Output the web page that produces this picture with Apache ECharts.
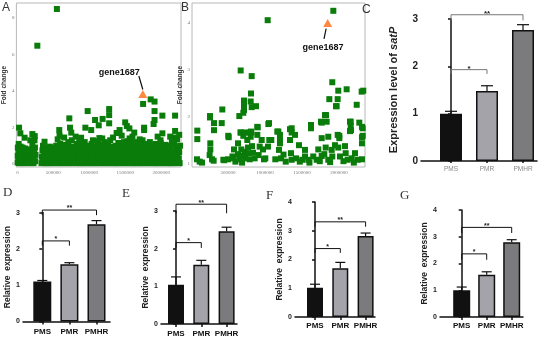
<!DOCTYPE html>
<html><head><meta charset="utf-8">
<script src="https://cdn.jsdelivr.net/npm/echarts@6/dist/echarts.min.js"></script>
<style>html,body{margin:0;padding:0;background:#fff}#c{width:550px;height:344px}</style>
</head><body><div id="c"></div>
<script>
// ---------- DATA ----------
const categories = ['PMS', 'PMR', 'PMHR'];
const barColors = ['#111111', '#a5a3aa', '#7b7b7d'];

const valuesC = [1.0, 1.48, 2.77];  const errC = [0.05, 0.11, 0.11];
const valuesD = [1.1, 1.58, 2.68];  const errD = [0.03, 0.04, 0.10];
const valuesE = [1.04, 1.57, 2.46]; const errE = [0.21, 0.12, 0.11];
const valuesF = [1.02, 1.70, 2.82]; const errF = [0.12, 0.20, 0.10];
const valuesG = [1.0, 1.58, 2.79];  const errG = [0.12, 0.11, 0.10];

// [from, to, bracket top, leg bottom, label]
const sigC = [[0, 1, 1.93, 1.84, '*'], [0, 2, 3.09, 2.97, '**']];
const sigD = [[0, 1, 2.22, 2.09, '*'], [0, 2, 3.07, 2.93, '**']];
const sigE = [[0, 1, 2.16, 2.02, '*'], [0, 2, 3.18, 2.94, '**']];
const sigF = [[0, 1, 2.38, 2.23, '*'], [0, 2, 3.31, 3.14, '**']];
const sigG = [[0, 1, 2.36, 2.14, '*'], [0, 2, 3.35, 3.14, '**']];

// Scatter A: [position (kb), fold change]
const scatterAHigh = [[549,8.49],[277,6.48],[1748,3.29],[1853,3.54],[1907,3.42],[1907,2.9],[1276,3.01],[977,2.9],[1276,2.68],[2016,2.65],[2193,2.65],[722,2.5],[1080,2.41],[1185,2.47],[1131,2.12],[1276,2.23],[1499,2.28],[1522,2.08],[1907,2.41],[1894,2.19],[23,1.99],[41,1.68],[208,1.64],[100,1.44],[241,1.53],[582,1.86],[586,1.55],[731,1.99],[749,1.72],[945,1.99],[1026,1.86],[886,1.44],[1140,1.42],[1421,1.86],[1557,1.95],[1625,1.72],[1762,1.99],[1762,1.86],[2016,1.68],[2125,1.5],[2193,1.81],[377,1.22],[180,1.3],[560,1.35],[650,1.45],[810,1.5],[1050,1.3],[1180,1.4],[1330,1.45],[1600,1.5],[1700,1.35],[1950,1.5],[1990,1.3],[2250,1.6],[1380,1.7],[1450,1.55],[860,1.25],[1120,1.25]];
const scatterABand = [[3,0.08],[4,0.45],[6,0.9],[12,0.25],[14,0.65],[18,1.1],[22,0.05],[26,0.4],[30,0.8],[34,0.15],[38,0.55],[44,0.95],[48,0.3],[52,0.05],[56,0.7],[62,0.2],[66,0.5],[72,0.9],[76,0.1],[80,0.35],[86,0.75],[92,0.05],[96,0.5],[102,0.25],[108,0.85],[112,0.1],[118,0.45],[124,0.7],[130,0.05],[136,0.3],[142,0.6],[148,0.15],[154,0.4],[160,0.08],[168,0.55],[174,0.2],[180,0.8],[186,0.05],[192,0.4],[198,0.65],[204,0.15],[208,1.05],[214,0.45],[218,0.85],[224,0.05],[228,0.3],[234,0.6],[238,1.3],[244,0.9],[248,0.15],[252,0.5],
[335,0.05],[340,0.4],[348,0.75],[352,0.15],[356,1.0],[362,0.3],[368,0.6],[372,0.05],[378,0.9],[382,0.45],[388,0.2],[394,0.7],[400,0.05],[404,0.35],[410,0.85],[416,0.15],[420,0.55],[426,0.05],[432,0.4],[438,0.75],[444,0.2],[450,0.95],[456,0.05],[462,0.5],[468,0.3],[474,0.8],[480,0.1],[486,0.6],[492,0.35],[498,0.05],[504,0.9],[510,0.45],[516,0.2],[522,0.7],[528,0.05],[534,0.5],[540,1.0],[546,0.25],[552,0.65],[558,0.1],[564,0.4],[570,0.85],[576,0.05],[582,0.55],[588,0.3],[594,1.1],[600,0.15],
[606,0.6],[612,0.05],[618,0.4],[624,0.9],[630,0.2],[636,0.7],[642,0.05],[648,0.45],[654,1.05],[660,0.25],[666,0.6],[672,0.1],[678,0.85],[684,0.4],[690,0.05],[696,0.7],[702,0.3],[708,1.2],[714,0.55],[720,0.05],[726,0.9],[732,0.35],[738,0.65],[744,0.1],[750,0.45],[756,1.3],[762,0.8],[768,0.05],[774,0.5],[780,0.25],[786,0.95],[792,0.1],[798,0.6],[804,0.35],[810,0.05],[816,0.75],[822,0.45],[828,1.1],[834,0.15],[840,0.55],[846,0.3],[852,0.05],[858,0.85],[864,0.4],[870,0.2],[876,0.7],[882,0.05],[888,1.0],[894,0.5],
[900,0.15],[906,0.75],[912,0.05],[918,0.4],[924,0.9],[930,0.25],[936,1.2],[942,0.6],[948,0.05],[954,0.35],[960,0.8],[966,0.1],[972,0.5],[978,1.0],[984,0.05],[990,0.3],[996,0.7],[1002,0.15],[1008,0.9],[1014,0.45],[1020,0.05],[1026,0.6],[1032,1.1],[1038,0.25],[1044,0.75],[1050,0.05],[1056,0.4],[1062,0.95],[1068,0.15],[1074,0.55],[1080,0.3],[1086,0.05],[1092,0.85],[1098,0.45],[1104,0.1],[1110,0.7],[1116,1.15],[1122,0.05],[1128,0.35],[1134,0.6],[1140,0.2],[1146,0.9],[1152,0.05],[1158,0.5],[1164,1.05],[1170,0.25],[1176,0.7],[1182,0.1],[1188,0.4],[1194,0.85],
[1200,0.05],[1206,0.55],[1212,1.2],[1218,0.3],[1224,0.75],[1230,0.05],[1236,0.45],[1242,0.95],[1248,0.15],[1254,0.6],[1260,1.1],[1266,0.05],[1272,0.35],[1278,0.8],[1284,0.2],[1290,1.3],[1296,0.5],[1302,0.05],[1308,0.7],[1314,0.3],[1320,0.95],[1326,0.1],[1332,0.45],[1338,0.05],[1344,0.8],[1350,0.25],[1356,0.6],[1362,0.05],[1368,1.0],[1374,0.4],[1380,0.15],[1386,0.7],[1392,0.05],[1398,0.5],[1404,1.15],[1410,0.25],[1416,0.85],[1422,0.05],[1428,0.4],[1434,0.65],[1440,0.1],[1446,1.0],[1452,0.3],[1458,0.55],[1464,0.05],[1470,0.8],[1476,0.35],[1482,1.2],[1488,0.1],[1494,0.6],
[1500,0.05],[1506,0.9],[1512,0.4],[1518,0.15],[1524,0.7],[1530,1.25],[1536,0.05],[1542,0.5],[1548,0.95],[1554,0.25],[1560,1.4],[1566,0.6],[1572,0.05],[1578,0.8],[1584,0.35],[1590,1.1],[1596,0.1],[1602,0.55],[1608,0.05],[1614,0.85],[1620,0.3],[1626,1.2],[1632,0.6],[1638,0.05],[1644,0.4],[1650,0.95],[1656,0.15],[1662,0.7],[1668,0.05],[1674,1.05],[1680,0.45],[1686,0.2],[1692,0.8],[1698,0.05],[1704,0.55],[1710,1.15],[1716,0.3],[1722,0.7],[1728,0.05],[1734,0.45],[1740,1.3],[1746,0.9],[1752,0.15],[1758,0.6],[1764,0.05],[1770,1.0],[1776,0.35],[1782,0.75],[1788,0.1],[1794,0.5],
[1800,1.1],[1806,0.05],[1812,0.4],[1818,0.85],[1824,0.2],[1830,0.6],[1836,0.05],[1842,1.2],[1848,0.45],[1854,0.9],[1860,0.1],[1866,0.65],[1872,0.3],[1878,0.05],[1884,1.0],[1890,0.5],[1896,0.2],[1902,0.8],[1908,0.05],[1914,0.4],[1920,1.1],[1926,0.65],[1932,0.05],[1938,0.3],[1944,0.85],[1950,0.15],[1956,0.55],[1962,1.0],[1968,0.05],[1974,0.4],[1980,0.75],[1986,0.2],[1992,1.15],[1998,0.5],[2004,0.05],[2010,0.7],[2016,0.3],[2022,0.95],[2028,0.1],[2034,0.55],[2040,0.05],[2046,0.85],[2052,0.4],[2058,1.05],[2064,0.2],[2070,0.65],[2076,0.05],[2082,0.35],[2088,0.9],[2094,0.15],[2100,0.6],[2106,0.05],[2112,1.0],[2118,0.45],[2124,0.25],[2130,0.8],[2136,0.05],[2142,0.5],[2148,1.2],[2154,0.3],[2160,0.7],[2166,0.05],[2172,0.4],[2178,1.1],[2184,0.15],[2190,0.6],[2196,1.45],[2202,0.05],[2208,0.85],[2214,0.35],[2220,1.35],[2226,0.55],[2232,0.1],[2238,0.9],[2244,0.3],[2250,0.65],[2256,0.05],[2262,1.0]];

// Scatter B: [position (kb), fold change]
const scatterB = [[1923,4.26],[1036,4.06],[671,2.99],[820,2.87],[811,2.5],[716,2.35],[716,2.26],[716,2.15],[707,2.09],[806,2.33],[820,2.21],[878,2.23],[653,2.02],[423,2.16],[257,2.02],[257,1.99],[311,1.87],[311,1.72],[415,1.87],[901,1.78],[1045,1.85],[1909,2.74],[1990,2.56],[1959,2.23],[1869,2.38],[2103,2.59],[2306,2.54],[2328,2.56],[2239,2.26],[1824,2.04],[1766,1.88],[1621,1.83],[1621,1.76],[1360,1.76],[1360,1.67],[1405,1.62],[1166,1.69],[1202,1.62],[896,1.62],[806,1.58],[788,1.67],[671,1.67],[707,1.6],[811,1.69],[504,1.6],[2158,1.9],[2158,1.81],[2148,1.7],[2004,1.6],[2004,1.55],[2320,1.76],[2320,1.6],[2274,1.88],[1766,1.55],[1058,1.51],[955,1.51],[1202,1.51],
[85,1.71],[85,1.53],[81,1.1],[117,1.05],[149,1.03],[261,1.44],[261,1.31],[252,1.19],[284,1.1],[306,1.07],[437,1.09],[500,1.1],[509,1.57],[581,1.31],[577,1.12],[635,1.44],[635,1.21],[658,1.1],[671,1.67],[680,1.31],[703,1.17],[725,1.67],[725,1.26],[734,1.12],[761,1.51],[770,1.35],[779,1.23],[793,1.1],[815,1.67],[824,1.38],[838,1.24],[860,1.12],[896,1.79],[928,1.37],[914,1.19],[986,1.1],[973,1.31],[1004,1.12],[1040,1.37],[1054,1.87],[1085,1.51],[1139,1.1],[450,1.08],[600,1.05],[690,1.03],[560,1.16],
[1180,1.69],[1202,1.44],[1189,1.3],[1216,1.12],[1338,1.74],[1338,1.51],[1351,1.23],[1360,1.09],[1459,1.4],[1540,1.3],[1540,1.16],[1504,1.09],[1585,1.09],[1621,1.8],[1652,1.16],[1698,1.09],[1720,1.31],[1766,1.17],[1801,1.21],[1820,1.35],[1810,2.04],[1855,1.58],[1855,1.09],[1901,1.3],[1909,1.16],[1945,1.4],[1982,1.62],[1990,1.35],[2013,1.16],[2081,1.38],[2090,1.23],[2117,1.09],[2148,1.9],[2162,1.72],[2171,1.12],[2216,1.23],[2252,1.09],[2310,1.79],[2310,1.57],[2310,1.44],[2310,1.1],[1982,2.38],[1968,2.23],[1833,1.9],[1756,1.9],[1280,1.05],[1420,1.12],[1600,1.03],[1740,1.06],[1880,1.04],[2060,1.06],[2200,1.03],[1250,1.2],[1470,1.05]];

const geneA = [[1744, 3.84]];  const geneB = [[1847, 4.0]];
const arrowA = [[1689, 4.82], [1744, 4.08]];
const arrowB = [[1797, 3.66], [1826, 3.88]];
const geneLabelA = [1417, 5.0];  const geneLabelB = [1783, 3.47];
const geneName = 'gene1687';

const xTicksA = [0, 500, 1000, 1500, 2000];
const xTicksB = [500, 1000, 1500, 2000];
const yTicksA = [0, 2, 4, 6, 8];
const yTicksB = [1, 2, 3, 4];

// ---------- LAYOUT ----------
const SANS = 'Liberation Sans, Arial, sans-serif';
const SERIF = 'Liberation Serif, Times New Roman, serif';
const grids = [], xAxes = [], yAxes = [], series = [];

function scatterPanel(cfg) {
  const gi = grids.length;
  grids.push({left: cfg.left, top: cfg.top, width: cfg.width, height: cfg.height, show: true,
    borderColor: '#b8b8b8', borderWidth: 1, backgroundColor: '#fff', containLabel: false});
  xAxes.push({gridIndex: gi, type: 'value', min: cfg.xmin, max: cfg.xmax,
    axisLine: {show: false}, axisTick: {show: false}, splitLine: {show: false},
    axisLabel: {customValues: cfg.xTicks, formatter: v => String(Math.round(v * 1000)), fontSize: 5, color: '#777', fontFamily: SERIF, margin: 3}});
  yAxes.push({gridIndex: gi, type: 'value', min: cfg.ymin, max: cfg.ymax,
    axisLine: {show: false}, axisTick: {show: false}, splitLine: {show: false},
    axisLabel: {customValues: cfg.yTicks, fontSize: 5, color: '#777', fontFamily: SERIF, margin: 2},
    name: 'Fold change', nameLocation: 'middle', nameRotate: 90, nameGap: cfg.nameGap,
    nameTextStyle: {fontSize: 6.5, fontWeight: 'bold', color: '#333', fontFamily: SANS}});
  cfg.points.forEach(p => series.push({type: 'scatter', xAxisIndex: gi, yAxisIndex: gi, data: p,
    symbol: 'rect', symbolSize: cfg.size, itemStyle: {color: '#0a7c0a', opacity: 1}, silent: true, large: false}));
  series.push({type: 'scatter', xAxisIndex: gi, yAxisIndex: gi, data: cfg.gene, symbol: 'triangle',
    symbolSize: [9, 8], itemStyle: {color: '#ff6a10'}, z: 5, silent: true,
    markLine: {silent: true, symbol: ['none', 'arrow'], symbolSize: [0, 6], animation: false,
      lineStyle: {color: '#111', width: 1.2, type: 'solid'}, label: {show: false},
      data: [[{coord: cfg.arrow[0]}, {coord: cfg.arrow[1]}]]},
    markPoint: {silent: true, animation: false, symbol: 'rect', symbolSize: 1, itemStyle: {color: 'rgba(0,0,0,0)'},
      label: {show: true, position: 'inside', formatter: geneName, color: '#111', fontWeight: 'bold', fontSize: 9, fontFamily: SANS},
      data: [{coord: cfg.labelAt}]}});
}

function barPanel(cfg) {
  const gi = grids.length;
  const xmin = -(cfg.c0 - cfg.axisX) / cfg.sp, xmax = (cfg.right - cfg.c0) / cfg.sp;
  grids.push({left: cfg.axisX, top: cfg.yTop, width: cfg.right - cfg.axisX, height: cfg.y0 - cfg.yTop, containLabel: false});
  xAxes.push({gridIndex: gi, type: 'value', min: xmin, max: xmax, splitLine: {show: false},
    axisLine: {show: true, onZero: false, lineStyle: {color: '#111', width: cfg.lw}},
    axisTick: {show: true, customValues: [0, 1, 2], length: cfg.tickLen, lineStyle: {color: '#111', width: cfg.lw}},
    axisLabel: {customValues: [0, 1, 2], formatter: v => categories[Math.round(v)], fontSize: cfg.xFont,
      fontWeight: cfg.xBold ? 'bold' : 'normal', color: cfg.xColor, fontFamily: SANS, margin: cfg.xMargin}});
  yAxes.push({gridIndex: gi, type: 'value', min: 0, max: cfg.ymax, interval: 1, splitLine: {show: false},
    axisLine: {show: true, lineStyle: {color: '#111', width: cfg.lw}},
    axisTick: {show: true, length: 3, lineStyle: {color: '#111', width: cfg.lw}},
    axisLabel: {fontSize: cfg.yFont, fontWeight: 'bold', color: '#222', fontFamily: SANS, margin: 3},
    name: cfg.yName, nameLocation: 'middle', nameRotate: 90, nameGap: cfg.nameGap,
    nameTextStyle: {fontSize: cfg.nameSize, fontWeight: 'bold', color: '#222', fontFamily: SANS,
      rich: {i: {fontSize: cfg.nameSize, fontWeight: 'bold', fontStyle: 'italic', color: '#222', fontFamily: SANS}}}});
  series.push({type: 'bar', xAxisIndex: gi, yAxisIndex: gi, barWidth: cfg.bw, silent: true,
    data: cfg.values.map((v, i) => ({value: [i, v], itemStyle: {color: barColors[i], borderColor: '#111', borderWidth: cfg.lw}}))});
  const errs = cfg.errs, vals = cfg.values;
  series.push({type: 'custom', xAxisIndex: gi, yAxisIndex: gi, clip: false, silent: true, z: 3,
    data: vals.map((v, i) => [i, v, v + errs[i]]),
    renderItem: (params, api) => {
      const b = api.coord([api.value(0), api.value(1)]), t = api.coord([api.value(0), api.value(2)]);
      const hw = cfg.cap / 2;
      return {type: 'group', children: [
        {type: 'line', shape: {x1: b[0], y1: b[1], x2: t[0], y2: t[1]}, style: {stroke: '#111', lineWidth: 1.2}},
        {type: 'line', shape: {x1: t[0] - hw, y1: t[1], x2: t[0] + hw, y2: t[1]}, style: {stroke: '#111', lineWidth: 1.2}}]};
    }});
  const sig = cfg.sig;
  series.push({type: 'custom', xAxisIndex: gi, yAxisIndex: gi, clip: false, silent: true, z: 3,
    data: sig.map(s => [s[0], s[1], s[2], s[3]]),
    renderItem: (params, api) => {
      const a = api.coord([api.value(0), api.value(2)]), b = api.coord([api.value(1), api.value(2)]);
      const al = api.coord([api.value(0), api.value(3)]), bl = api.coord([api.value(1), api.value(3)]);
      return {type: 'group', children: [
        {type: 'polyline', shape: {points: [al, a, b, bl]}, style: {stroke: cfg.bracketColor, lineWidth: 1, fill: null}},
        {type: 'text', x: (a[0] + b[0]) / 2, y: a[1] + cfg.starDy, style: {text: sig[params.dataIndex][4],
          fill: '#222', fontSize: cfg.starSize, fontWeight: 'bold', fontFamily: SANS, align: 'center', verticalAlign: 'bottom'}}]};
    }});
}

scatterPanel({left: 13, top: 3, width: 168, height: 164, xmin: -14, xmax: 2275, ymin: -0.164, ymax: 8.82,
  xTicks: xTicksA, yTicks: yTicksA, nameGap: 5, size: 6, points: [scatterABand, scatterAHigh],
  gene: geneA, arrow: arrowA, labelAt: geneLabelA});
scatterPanel({left: 192, top: 3, width: 173, height: 164, xmin: 13.5, xmax: 2351, ymin: 0.936, ymax: 4.426,
  xTicks: xTicksB, yTicks: yTicksB, nameGap: 3, size: 6, points: [scatterB],
  gene: geneB, arrow: arrowB, labelAt: geneLabelB});

barPanel({axisX: 421, right: 537, y0: 161, yTop: 19, ymax: 3, c0: 451, sp: 36, bw: 22, cap: 12, lw: 1.5, tickLen: 2,
  values: valuesC, errs: errC, sig: sigC, yName: 'Expression level of {i|satP}', nameGap: 22, nameSize: 11,
  xFont: 6.5, xBold: false, xColor: '#888', xMargin: 5, yFont: 10, bracketColor: '#777', starSize: 8, starDy: 3});
barPanel({axisX: 23, right: 110, y0: 321.5, yTop: 212.6, ymax: 3, c0: 42.3, sp: 27.1, bw: 18, cap: 10, lw: 1.5, tickLen: 3,
  values: valuesD, errs: errD, sig: sigD, yName: 'Relative  expression', nameGap: 10, nameSize: 8.5,
  xFont: 8, xBold: true, xColor: '#111', xMargin: 6, yFont: 7, bracketColor: '#111', starSize: 7, starDy: 2});
barPanel({axisX: 161, right: 237, y0: 324, yTop: 211, ymax: 3, c0: 176, sp: 25.3, bw: 16, cap: 10, lw: 1.5, tickLen: 3,
  values: valuesE, errs: errE, sig: sigE, yName: 'Relative  expression', nameGap: 11, nameSize: 8.5,
  xFont: 8, xBold: true, xColor: '#111', xMargin: 6, yFont: 7, bracketColor: '#111', starSize: 7, starDy: 2});
barPanel({axisX: 295, right: 375, y0: 317, yTop: 202, ymax: 4, c0: 315, sp: 25.3, bw: 16, cap: 10, lw: 1.5, tickLen: 3,
  values: valuesF, errs: errF, sig: sigF, yName: 'Relative  expression', nameGap: 8, nameSize: 8.5,
  xFont: 8, xBold: true, xColor: '#111', xMargin: 5, yFont: 7, bracketColor: '#111', starSize: 7, starDy: 2});
barPanel({axisX: 440, right: 523, y0: 317, yTop: 210, ymax: 4, c0: 461.7, sp: 25, bw: 17, cap: 10, lw: 1.5, tickLen: 3,
  values: valuesG, errs: errG, sig: sigG, yName: 'Relative  expression', nameGap: 8, nameSize: 8.5,
  xFont: 8, xBold: true, xColor: '#111', xMargin: 5, yFont: 7, bracketColor: '#111', starSize: 7, starDy: 2});

const letters = [
  {text: 'A', left: 2, top: 2, ff: SANS, fs: 12},
  {text: 'B', left: 181, top: 2, ff: SANS, fs: 12},
  {text: 'C', left: 362, top: 4, ff: SANS, fs: 12},
  {text: 'D', left: 3, top: 186, ff: SERIF, fs: 13},
  {text: 'E', left: 122, top: 187, ff: SERIF, fs: 13},
  {text: 'F', left: 266, top: 189, ff: SERIF, fs: 13},
  {text: 'G', left: 400, top: 189, ff: SERIF, fs: 13}];

const chart = echarts.init(document.getElementById('c'), null, {renderer: 'canvas'});
chart.setOption({
  backgroundColor: '#fff', animation: false,
  title: letters.map(l => ({text: l.text, left: l.left, top: l.top, padding: 0,
    textStyle: {fontSize: l.fs, fontWeight: 'normal', color: '#333', fontFamily: l.ff}})),
  grid: grids, xAxis: xAxes, yAxis: yAxes, series: series
});
</script>
</body></html>
